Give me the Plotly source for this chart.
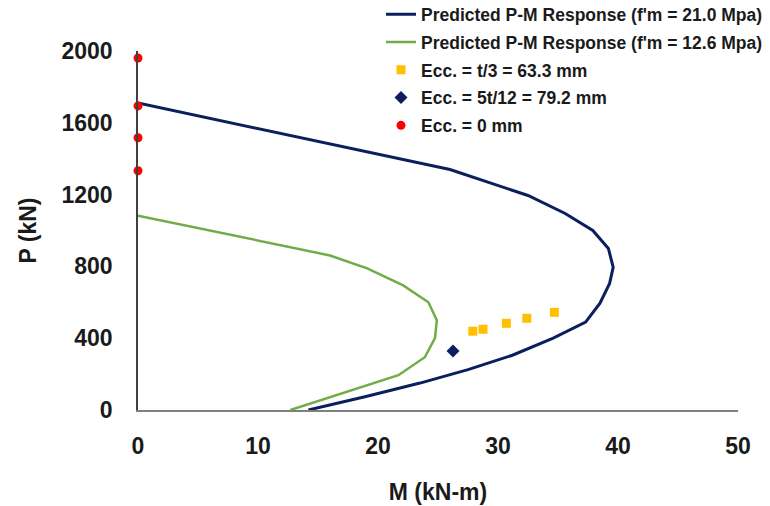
import plotly.graph_objects as go

# Predicted P-M response, f'm = 21.0 MPa
m_21 = [0, 26.0, 32.5, 35.6, 37.9, 39.2, 39.6, 39.3, 38.5, 37.3, 34.6, 31.2, 27.5, 23.5, 19.0, 14.2]
p_21 = [1710, 1340, 1195, 1095, 1000, 900, 795, 705, 595, 490, 400, 305, 225, 150, 75, 0]

# Predicted P-M response, f'm = 12.6 MPa
m_12 = [0, 16.0, 19.1, 22.1, 24.2, 24.9, 24.75, 23.9, 21.7, 12.7]
p_12 = [1083, 861, 789, 694, 600, 500, 400, 294, 194, 0]

# Test points
m_t3 = [27.9, 28.75, 30.7, 32.4, 34.7]
p_t3 = [439, 450, 483, 511, 544]

m_5t12 = [26.25]
p_5t12 = [328]

m_e0 = [0, 0, 0, 0]
p_e0 = [1961, 1694, 1517, 1333]

x_ticks = [0, 10, 20, 30, 40, 50]
y_ticks = [0, 400, 800, 1200, 1600, 2000]

FONT = "Liberation Sans"
TXT = "#1a1a1a"

fig = go.Figure()
fig.add_trace(go.Scatter(x=m_21, y=p_21, mode="lines", name="Predicted P-M Response (f'm = 21.0 Mpa)",
                         line=dict(color="#0b1f5e", width=3), legendgroup="a"))
fig.add_trace(go.Scatter(x=m_12, y=p_12, mode="lines", name="Predicted P-M Response (f'm = 12.6 Mpa)",
                         line=dict(color="#70AD47", width=2.5), legendgroup="b"))
fig.add_trace(go.Scatter(x=m_t3, y=p_t3, mode="markers", name="Ecc. = t/3 = 63.3 mm",
                         marker=dict(color="#FFC000", symbol="square", size=9), legendgroup="c"))
fig.add_trace(go.Scatter(x=m_5t12, y=p_5t12, mode="markers", name="Ecc. = 5t/12 = 79.2 mm",
                         marker=dict(color="#0b1f5e", symbol="diamond", size=10), legendgroup="d"))
fig.add_trace(go.Scatter(x=m_e0, y=p_e0, mode="markers", name="Ecc. = 0 mm",
                         marker=dict(color="#FF0000", symbol="circle", size=9), legendgroup="e", cliponaxis=False))

fig.update_layout(
    width=770, height=506,
    margin=dict(l=138, r=32, t=51, b=96, autoexpand=False),
    paper_bgcolor="white", plot_bgcolor="white",
    font=dict(family=FONT, color=TXT),
    showlegend=True,
    legend=dict(x=0.405, y=1.152, xanchor="left", yanchor="top",
                font=dict(family=FONT, size=17.5, color=TXT, weight="bold"),
                bgcolor="rgba(255,255,255,0)", tracegroupgap=2),
    xaxis=dict(range=[0, 50], tickvals=x_ticks, showgrid=False, zeroline=False,
               showline=True, linecolor="#7f7f7f", linewidth=1.5, ticks="",
               tickfont=dict(family=FONT, size=23, weight="bold", color=TXT),
               ticklabelstandoff=15,
               title=dict(text="M (kN-m)", font=dict(family=FONT, size=23, weight="bold", color=TXT),
                          standoff=26)),
    yaxis=dict(range=[0, 2000], tickvals=y_ticks, showgrid=False, zeroline=False,
               showline=True, linecolor="#404040", linewidth=1.5, ticks="",
               tickfont=dict(family=FONT, size=23, weight="bold", color=TXT),
               ticklabelstandoff=19,
               title=dict(text="P (kN)", font=dict(family=FONT, size=23, weight="bold", color=TXT),
                          standoff=18)),
)

fig.write_html("out.html")
